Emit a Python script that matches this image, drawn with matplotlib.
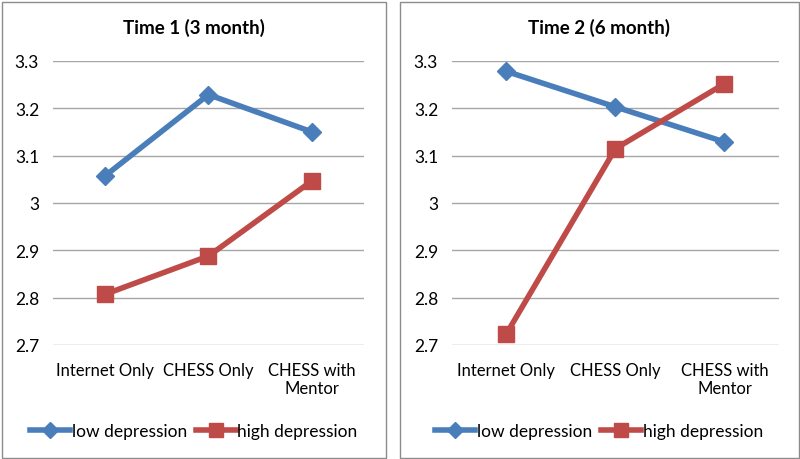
import matplotlib.pyplot as plt
from matplotlib.patches import Rectangle
from matplotlib.lines import Line2D

# data
categories = ["Internet Only", "CHESS Only", "CHESS with\nMentor"]
t1_low = [3.057, 3.229, 3.150]
t1_high = [2.807, 2.888, 3.047]
t2_low = [3.278, 3.203, 3.129]
t2_high = [2.724, 3.115, 3.252]
titles = ["Time 1 (3 month)", "Time 2 (6 month)"]
yticks = [2.7, 2.8, 2.9, 3.0, 3.1, 3.2, 3.3]
ytick_labels = ["2.7", "2.8", "2.9", "3", "3.1", "3.2", "3.3"]

BLUE = "#4A7EBB"
RED = "#BE4B48"
GRID = "#A6A6A6"
FONT = ["Lato", "DejaVu Sans"]

plt.rcParams["font.family"] = FONT

fig = plt.figure(figsize=(8, 4.6), dpi=100)
W, H = 800, 460

# panel boxes (pixels): x0, x1
panels = [(1.5, 386), (399.5, 798.5)]
plot_x = [(53, 364), (452, 779)]
series = [(t1_low, t1_high), (t2_low, t2_high)]

for i in range(2):
    px0, px1 = panels[i]
    fig.patches.append(Rectangle((px0 / W, 1.5 / H), (px1 - px0) / W, (457 - 1.5) / H,
                                 transform=fig.transFigure, fill=False,
                                 edgecolor="#8C8C8C", linewidth=1.0))

    x0, x1 = plot_x[i]
    ax = fig.add_axes([x0 / W, (H - 346) / H, (x1 - x0) / W, 284 / H])
    low, high = series[i]
    xs = range(len(categories))
    ax.plot(xs, low, color=BLUE, linewidth=4, marker="D", markersize=9,
            label="low depression", solid_joinstyle="round")
    ax.plot(xs, high, color=RED, linewidth=4, marker="s", markersize=11,
            label="high depression", solid_joinstyle="round")

    ax.set_xlim(-0.5, 2.5)
    ax.set_ylim(2.7, 3.3)
    ax.set_yticks(yticks)
    ax.set_yticklabels(ytick_labels)
    ax.set_xticks(list(xs))
    ax.set_xticklabels(categories)
    ax.tick_params(axis="both", length=0, colors="black")
    ax.tick_params(axis="y", pad=10, labelsize=12.5)
    ax.tick_params(axis="x", pad=12, labelsize=12)
    ax.yaxis.grid(True, color=GRID, linewidth=1.0)
    ax.set_axisbelow(True)
    for s in ax.spines.values():
        s.set_visible(False)

    fig.text((px0 + px1) / 2 / W, 1 - 28 / H, titles[i], ha="center", va="center",
             fontsize=13.5, fontweight="bold")

    handles = [Line2D([], [], color=BLUE, linewidth=4, marker="D", markersize=8),
               Line2D([], [], color=RED, linewidth=4, marker="s", markersize=10)]
    ax.legend(handles, ["low depression", "high depression"], loc="center",
              bbox_to_anchor=((px0 + px1) / 2 / W, 28 / H),
              bbox_transform=fig.transFigure, ncol=2, frameon=False,
              fontsize=12.5, handlelength=2.3, handletextpad=0.1,
              columnspacing=0.5)

fig.savefig("out.png", dpi=100)
